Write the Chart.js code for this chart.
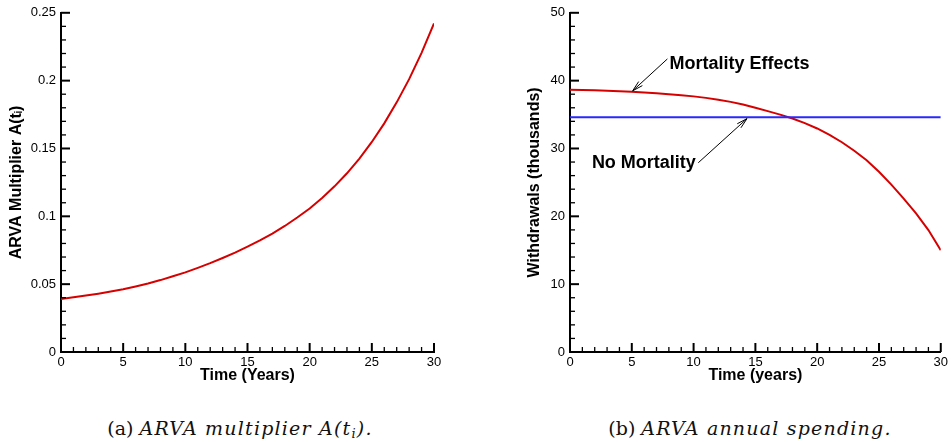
<!DOCTYPE html>
<html><head><meta charset="utf-8">
<script src="https://cdn.jsdelivr.net/npm/chart.js@4.4.1/dist/chart.umd.min.js"></script>
<style>
html,body{margin:0;padding:0;background:#fff;}
body{width:951px;height:442px;position:relative;overflow:hidden;}
#wa{position:absolute;left:0;top:0;}
#wb{position:absolute;left:476px;top:0;}
.cap{position:absolute;top:417px;font-family:"DejaVu Serif",serif;font-size:19px;white-space:nowrap;transform:translateX(-50%);color:#111;}
.cap i{letter-spacing:1.2px;}
.cap sub{font-size:13px;vertical-align:-3px;line-height:0;}
</style></head>
<body>
<canvas id="wa" width="475" height="400"></canvas>
<canvas id="wb" width="475" height="400"></canvas>
<div class="cap" style="left:240px">(a) <i>ARVA multiplier A(t<sub>i</sub>).</i></div>
<div class="cap" style="left:750px">(b) <i>ARVA annual spending.</i></div>
<script>
// ---- data ----
const years = [0,1,2,3,4,5,6,7,8,9,10,11,12,13,14,15,16,17,18,19,20,21,22,23,24,25,26,27,28,29,30];
const arvaMultiplier = [0.0390,0.0403,0.0416,0.0430,0.0446,0.0463,0.0483,0.0505,0.0530,0.0558,0.0587,0.0620,0.0655,0.0693,0.0733,0.0776,0.0823,0.0873,0.0929,0.0991,0.1058,0.1135,0.1221,0.1317,0.1426,0.1548,0.1685,0.1840,0.2011,0.2205,0.2422];
const withMortality = [38.64,38.62,38.58,38.52,38.44,38.35,38.25,38.14,38.01,37.86,37.68,37.46,37.19,36.87,36.47,36.01,35.51,34.99,34.41,33.73,32.95,32.00,30.92,29.67,28.27,26.57,24.67,22.62,20.42,17.97,15.00];
const noMortality = [34.6,34.6,34.6,34.6,34.6,34.6,34.6,34.6,34.6,34.6,34.6,34.6,34.6,34.6,34.6,34.6,34.6,34.6,34.6,34.6,34.6,34.6,34.6,34.6,34.6,34.6,34.6,34.6,34.6,34.6,34.6];
const xTickLabels = ['0','5','10','15','20','25','30'];
const yTickLabelsA = ['0','0.05','0.1','0.15','0.2','0.25'];
const yTickLabelsB = ['0','10','20','30','40','50'];
const annotations = [
  {text:'Mortality Effects', at:[8.05,42.5], from:[7.88,43.2], to:[5.07,38.5]},
  {text:'No Mortality', at:[1.77,27.8], from:[10.38,27.9], to:[14.32,34.4]}
];

const pts = (xs, ys) => xs.map((x,i)=>({x:x,y:ys[i]}));
const labelFor = (labels) => (v) => {
  const s = labels.find(l => Math.abs(parseFloat(l) - v) < 1e-9);
  return s === undefined ? '' : s;
};
const majorLabels = {wa:{x:xTickLabels, y:yTickLabelsA}, wb:{x:xTickLabels, y:yTickLabelsB}};
const annotByChart = {wb:annotations};

const insideTicks = {
  id:'insideTicks',
  afterDatasetsDraw(chart){
    const ctx = chart.ctx, ca = chart.chartArea;
    const ml = majorLabels[chart.canvas.id];
    ctx.save();
    ctx.strokeStyle = '#000';
    ['x','y'].forEach(id => {
      const s = chart.scales[id];
      s.ticks.forEach(t => {
        const v = t.value;
        const p = s.getPixelForValue(v);
        const major = ml[id].some(l => Math.abs(parseFloat(l) - v) < 1e-9);
        const len = major ? 9 : 5;
        ctx.lineWidth = major ? 2 : 1.3;
        ctx.beginPath();
        if (id === 'x') { ctx.moveTo(p, ca.bottom); ctx.lineTo(p, ca.bottom - len); }
        else { ctx.moveTo(ca.left, p); ctx.lineTo(ca.left + len, p); }
        ctx.stroke();
      });
    });
    ctx.restore();
  }
};

const annotPlugin = {
  id:'annotPlugin',
  afterDatasetsDraw(chart){
    const items = annotByChart[chart.canvas.id];
    if (!items) return;
    const ctx = chart.ctx, sx = chart.scales.x, sy = chart.scales.y;
    ctx.save();
    items.forEach(a => {
      ctx.font = 'bold 18px "Liberation Sans", Arial, sans-serif';
      ctx.fillStyle = '#000';
      ctx.textAlign = 'left';
      ctx.textBaseline = 'middle';
      ctx.fillText(a.text, sx.getPixelForValue(a.at[0]), sy.getPixelForValue(a.at[1]));
      const x1 = sx.getPixelForValue(a.from[0]), y1 = sy.getPixelForValue(a.from[1]);
      const x2 = sx.getPixelForValue(a.to[0]), y2 = sy.getPixelForValue(a.to[1]);
      ctx.strokeStyle = '#000';
      ctx.lineWidth = 1;
      ctx.beginPath(); ctx.moveTo(x1,y1); ctx.lineTo(x2,y2); ctx.stroke();
      const ang = Math.atan2(y2-y1, x2-x1), L = 11, w = 0.25;
      ctx.beginPath();
      ctx.moveTo(x2 - L*Math.cos(ang-w), y2 - L*Math.sin(ang-w));
      ctx.lineTo(x2, y2);
      ctx.lineTo(x2 - L*Math.cos(ang+w), y2 - L*Math.sin(ang+w));
      ctx.stroke();
    });
    ctx.restore();
  }
};

Chart.defaults.font.family = '"Liberation Sans", Arial, sans-serif';
Chart.defaults.color = '#000';

function makeChart(el, cfg){
  return new Chart(document.getElementById(el), {
    type:'line',
    data:{datasets:cfg.datasets},
    plugins:[insideTicks, annotPlugin],
    options:{
      responsive:false,
      animation:false,
      layout:{padding:{left:cfg.padLeft, top:12, right:cfg.padRight, bottom:0}},
      plugins:{legend:{display:false}, tooltip:{enabled:false}},
      elements:{point:{radius:0}, line:{tension:0, borderWidth:2}},
      scales:{
        x:{
          type:'linear', min:0, max:30,
          afterFit:(s)=>{ s.height = 48; },
          grid:{display:false, drawTicks:false},
          border:{display:true, color:'#000', width:2},
          ticks:{stepSize:1, autoSkip:false, maxRotation:0, padding:3, font:{size:13}, color:'#000', callback:labelFor(xTickLabels)},
          title:{display:true, text:cfg.xTitle, font:{size:16, weight:'bold'}, padding:{top:0,bottom:15}, color:'#000'}
        },
        y:{
          type:'linear', min:0, max:cfg.yMax,
          afterFit:(s)=>{ s.width = cfg.yWidth; },
          grid:{display:false, drawTicks:false},
          border:{display:true, color:'#000', width:2},
          ticks:{stepSize:cfg.yStep, autoSkip:false, padding:5, font:{size:13}, color:'#000', callback:labelFor(cfg.yLabels)},
          title:{display:true, text:cfg.yTitle, font:{size:16, weight:'bold'}, padding:{top:0,bottom:0}, color:'#000'}
        }
      }
    }
  });
}

makeChart('wa', {
  padLeft:7, padRight:41, yWidth:54, yMax:0.25, yStep:0.01, yLabels:yTickLabelsA,
  xTitle:'Time (Years)', yTitle:'ARVA Multiplier A(tᵢ)',
  datasets:[{data:pts(years, arvaMultiplier), borderColor:'rgb(215,0,0)', borderWidth:2}]
});
makeChart('wb', {
  padLeft:49, padRight:8, yWidth:45, yMax:50, yStep:2, yLabels:yTickLabelsB,
  xTitle:'Time (years)', yTitle:'Withdrawals (thousands)',
  datasets:[
    {data:pts(years, noMortality), borderColor:'rgb(40,40,255)', borderWidth:2},
    {data:pts(years, withMortality), borderColor:'rgb(215,0,0)', borderWidth:2}
  ]
});
</script>
</body></html>
